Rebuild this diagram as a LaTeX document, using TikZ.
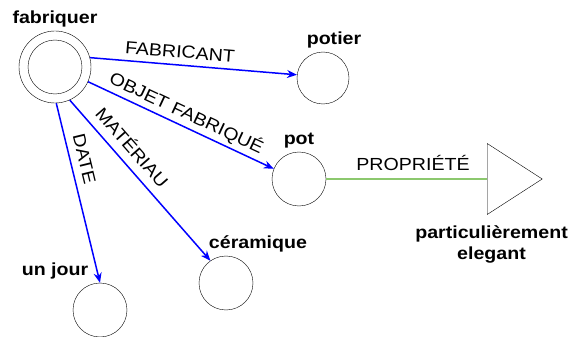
\documentclass[tikz,border=0pt]{standalone}
\usepackage{fontspec}
\setmainfont[FakeStretch=1.12]{Liberation Sans}
\usetikzlibrary{shapes.geometric}
\usetikzlibrary{arrows.meta}
\definecolor{vertclair}{RGB}{140,200,110}
\tikzset{concept/.style={draw,circle,minimum size=54pt,inner sep=0pt},
         relation/.style={draw=blue,line width=1.5pt,-{Stealth[length=10pt,width=8pt]}},
         propriete/.style={draw=vertclair,line width=2pt},
         valeur/.style={draw,isosceles triangle,isosceles triangle stretches,
                        minimum width=71pt,minimum height=55pt,inner sep=0pt},
         every label/.style={font=\bfseries\fontsize{17.5}{21}\selectfont},
         }

\begin{document}
\begin{tikzpicture}[x=1pt,y=-1pt,font=\fontsize{17.5}{21}\selectfont]
\useasboundingbox (0,0) rectangle (574,337);
% les concepts
\node[concept,minimum size=72pt,label=above:fabriquer] (fabriquer) at (55,67) {};
\node[concept] (fabriquerint) at (fabriquer) {};
\node[concept,minimum size=52pt,label={[xshift=11pt]above:potier}] (potier) at (323,78) {};
\node[concept,label=above:pot] (pot) at (299,179) {};
\node[concept,label={[xshift=32pt]above:céramique}] (ceramique) at (226,283) {};
\node[concept,label={[xshift=-45pt]above:un jour}] (unjour) at (100,310) {};
\node[valeur,anchor=west,
      label={[xshift=-15pt,label distance=20pt,align=center]below:particulièrement\\elegant}]
      (particulier) at (487,179) {};
% les relations
\draw[relation] (fabriquer.15) -- node[sloped,above=3pt,pos=0.43] {FABRICANT} (potier.173);
\draw[relation] (fabriquer.336) -- node[sloped,above,pos=0.5] {OBJET FABRIQUÉ} (pot.158);
\draw[relation] (fabriquer.294) -- node[sloped,above=5pt,pos=0.36] {MATÉRIAU} (ceramique.125);
\draw[relation] (fabriquer.272) -- node[sloped,above=4pt,pos=0.33] {DATE} (unjour.north);
\draw[propriete] (pot) -- node[above=4pt,pos=0.54] {PROPRIÉTÉ} (particulier.west);
\end{tikzpicture}
\end{document}
